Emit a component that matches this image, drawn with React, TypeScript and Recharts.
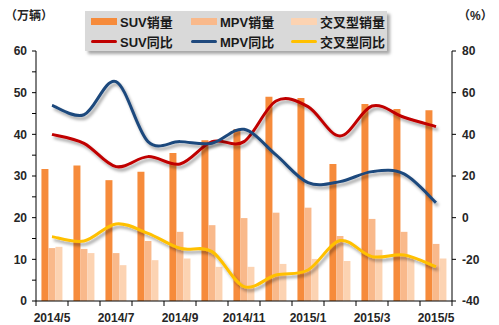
import React from 'react';
import { ComposedChart, Bar, Line, XAxis, YAxis } from 'recharts';

const months = ['2014/5', '2014/6', '2014/7', '2014/8', '2014/9', '2014/10', '2014/11', '2014/12', '2015/1', '2015/2', '2015/3', '2015/4', '2015/5'];
const suvSales = [31.7, 32.5, 29.0, 31.0, 35.5, 38.6, 41.3, 49.0, 48.7, 32.9, 47.3, 46.1, 45.8];
const mpvSales = [12.7, 12.5, 11.5, 14.4, 16.6, 18.2, 19.9, 21.2, 22.4, 15.6, 19.7, 16.6, 13.7];
const crossSales = [13.0, 11.5, 8.6, 9.8, 10.2, 8.2, 8.2, 8.9, 10.1, 9.6, 12.3, 10.3, 10.2];
const suvYoY = [40.0, 35.7, 24.5, 29.3, 25.8, 36.5, 36.5, 56.0, 53.3, 39.2, 53.6, 48.2, 43.7];
const mpvYoY = [53.9, 49.4, 65.3, 36.5, 36.5, 35.7, 42.4, 30.1, 16.8, 17.3, 22.1, 21.0, 7.2];
const crossYoY = [-9.1, -11.2, -3.0, -7.5, -14.7, -16.3, -33.1, -27.5, -25.1, -11.0, -18.7, -17.9, -23.5];
const leftTicks = [0, 5, 10, 15, 20, 25, 30, 35, 40, 45, 50, 55, 60];
const rightTicks = [-40, -20, 0, 20, 40, 60, 80];

const data = months.map((m, i) => ({
  month: m,
  suv: suvSales[i],
  mpv: mpvSales[i],
  cross: crossSales[i],
  suvY: suvYoY[i],
  mpvY: mpvYoY[i],
  crossY: crossYoY[i],
}));

const C_SUV = '#F68B3B';
const C_MPV = '#F9B98B';
const C_CROSS = '#FCD3B2';
const C_RED = '#C00000';
const C_BLUE = '#1F497D';
const C_YEL = '#FFC000';

const FONT = "'Liberation Sans', Arial, 'Noto Sans CJK SC', sans-serif";
const tickStyle = { fontFamily: FONT, fontWeight: 700, fontSize: 12, fill: '#262626' };

// Excel-like smoothed line (Catmull-Rom spline) as a d3-style curve factory
const smoothCurve: any = (context: any) => {
  let pts: [number, number][] = [];
  return {
    areaStart() {},
    areaEnd() {},
    lineStart() {
      pts = [];
    },
    lineEnd() {
      if (!pts.length) return;
      context.moveTo(pts[0][0], pts[0][1]);
      for (let i = 0; i < pts.length - 1; i++) {
        const p0 = pts[i - 1] || pts[i];
        const p1 = pts[i];
        const p2 = pts[i + 1];
        const p3 = pts[i + 2] || p2;
        context.bezierCurveTo(
          p1[0] + (p2[0] - p0[0]) / 6,
          p1[1] + (p2[1] - p0[1]) / 6,
          p2[0] - (p3[0] - p1[0]) / 6,
          p2[1] - (p3[1] - p1[1]) / 6,
          p2[0],
          p2[1]
        );
      }
    },
    point(x: number, y: number) {
      pts.push([+x, +y]);
    },
  };
};

const XTick = (props: any) => {
  const { x, y, payload, index } = props;
  const half = 16;
  const last = index === months.length - 1;
  return (
    <g>
      <line x1={x - half} x2={x - half} y1={y} y2={y + 5} stroke="#000" strokeWidth={1} />
      {last && <line x1={x + half} x2={x + half} y1={y} y2={y + 5} stroke="#000" strokeWidth={1} />}
      {index % 2 === 0 && (
        <text x={x} y={y + 21} textAnchor="middle" style={tickStyle}>
          {payload.value}
        </text>
      )}
    </g>
  );
};

const legendItems = [
  { label: 'SUV销量', color: C_SUV, kind: 'bar' },
  { label: 'MPV销量', color: C_MPV, kind: 'bar' },
  { label: '交叉型销量', color: C_CROSS, kind: 'bar' },
  { label: 'SUV同比', color: C_RED, kind: 'line' },
  { label: 'MPV同比', color: C_BLUE, kind: 'line' },
  { label: '交叉型同比', color: C_YEL, kind: 'line' },
];

export default function App() {
  return (
    <div style={{ position: 'absolute', left: 0, top: 0, width: 499, height: 325, background: '#fff' }}>
      <ComposedChart
        width={499}
        height={325}
        data={data}
        margin={{ top: 51, right: 0, bottom: 0, left: 0 }}
        barCategoryGap="17%"
        barGap={0}
      >
        <defs>
          <filter id="lineShadow" x="-10%" y="-20%" width="130%" height="160%">
            <feDropShadow dx="2" dy="3" stdDeviation="1.5" floodColor="#000" floodOpacity="0.35" />
          </filter>
        </defs>
        <XAxis
          dataKey="month"
          xAxisId="x"
          interval={0}
          height={24}
          tickLine={false}
          tickSize={0}
          tickMargin={0}
          axisLine={{ stroke: '#000' }}
          tick={<XTick />}
        />
        <YAxis
          yAxisId="left"
          width={36}
          domain={[0, 60]}
          ticks={leftTicks}
          interval={0}
          tickFormatter={(v: number) => (v % 10 === 0 ? String(v) : '')}
          tickSize={4}
          tickMargin={5}
          axisLine={{ stroke: '#000' }}
          tickLine={{ stroke: '#000' }}
          tick={tickStyle}
        />
        <YAxis
          yAxisId="right"
          orientation="right"
          width={47}
          domain={[-40, 80]}
          ticks={rightTicks}
          interval={0}
          tickSize={4}
          tickMargin={6}
          axisLine={{ stroke: '#000' }}
          tickLine={{ stroke: '#000' }}
          tick={{ ...tickStyle, textAnchor: 'start' }}
        />
        <Bar xAxisId="x" yAxisId="left" dataKey="suv" fill={C_SUV} isAnimationActive={false} />
        <Bar xAxisId="x" yAxisId="left" dataKey="mpv" fill={C_MPV} isAnimationActive={false} />
        <Bar xAxisId="x" yAxisId="left" dataKey="cross" fill={C_CROSS} isAnimationActive={false} />
        <Line xAxisId="x" yAxisId="right" type={smoothCurve} dataKey="suvY" stroke={C_RED} strokeWidth={3} dot={false} filter="url(#lineShadow)" isAnimationActive={false} />
        <Line xAxisId="x" yAxisId="right" type={smoothCurve} dataKey="mpvY" stroke={C_BLUE} strokeWidth={3} dot={false} filter="url(#lineShadow)" isAnimationActive={false} />
        <Line xAxisId="x" yAxisId="right" type={smoothCurve} dataKey="crossY" stroke={C_YEL} strokeWidth={3} dot={false} filter="url(#lineShadow)" isAnimationActive={false} />
      </ComposedChart>

      <div style={{ position: 'absolute', left: 5, top: 6, fontFamily: FONT, fontWeight: 700, fontSize: 12, color: '#262626' }}>（万辆）</div>
      <div style={{ position: 'absolute', left: 458, top: 6, fontFamily: FONT, fontWeight: 700, fontSize: 12, color: '#262626' }}>（%）</div>

      <div
        style={{
          position: 'absolute',
          left: 85,
          top: 11,
          width: 302,
          height: 40,
          background: '#D9D9D9',
          boxShadow: '3px 3px 3px rgba(0,0,0,0.35)',
        }}
      >
        {legendItems.map((it, i) => {
          const col = i % 3;
          const row = Math.floor(i / 3);
          return (
            <div
              key={it.label}
              style={{
                position: 'absolute',
                left: 6 + col * 100,
                top: 2 + row * 20,
                height: 16,
                display: 'flex',
                alignItems: 'center',
                whiteSpace: 'nowrap',
              }}
            >
              <span
                style={{
                  display: 'inline-block',
                  width: 26,
                  height: it.kind === 'bar' ? 7 : 3,
                  borderRadius: it.kind === 'bar' ? 0 : 2,
                  background: it.color,
                  marginRight: 3,
                }}
              />
              <span style={{ fontFamily: FONT, fontWeight: 700, fontSize: 13, color: '#1a1a1a' }}>{it.label}</span>
            </div>
          );
        })}
      </div>
    </div>
  );
}
